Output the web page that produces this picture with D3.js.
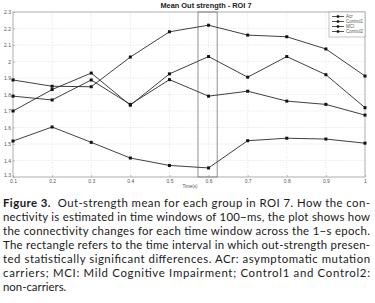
<!DOCTYPE html>
<html>
<head>
<meta charset="utf-8">
<script src="https://cdn.jsdelivr.net/npm/d3@7"></script>
<style>
  body { margin: 0; background: #fff; }
  svg { display: block; }
</style>
</head>
<body>
<div id="chart"></div>
<script>
// time windows (s)
let times = [0.1, 0.2, 0.3, 0.4, 0.5, 0.6, 0.7, 0.8, 0.9, 1.0];
let seriesNames = ["Acr", "Control1", "MCI", "Control2"];
let acr      = [1.888, 1.85, 1.847, 2.027, 2.18, 2.22, 2.16, 2.15, 2.076, 1.912];
let control1 = [1.70, 1.83, 1.93, 1.735, 1.925, 2.03, 1.905, 2.03, 1.92, 1.72];
let mci      = [1.79, 1.767, 1.888, 1.74, 1.89, 1.79, 1.82, 1.76, 1.74, 1.675];
let control2 = [1.518, 1.603, 1.51, 1.415, 1.37, 1.355, 1.52, 1.535, 1.53, 1.505];
let yTicks = [1.3, 1.4, 1.5, 1.6, 1.7, 1.8, 1.9, 2, 2.1, 2.2, 2.3];
let sigWindow = [0.573, 0.622];

let captionLines = [
    "nectivity is estimated in time windows of 100\u2212ms, the plot shows how",
    "the connectivity changes for each time window across the 1\u2212s epoch.",
    "The rectangle refers to the time interval in which out-strength presen-",
    "ted statistically significant differences. ACr: asymptomatic mutation",
    "carriers; MCI: Mild Cognitive Impairment; Control1 and Control2:",
    "non-carriers."
];

let width = 375, height = 303;
let plot = {left: 13, right: 365, top: 12, bottom: 177};

let svg = d3.select("#chart").append("svg")
    .attr("width", width)
    .attr("height", height);

let x = d3.scaleLinear().domain([0.1, 1]).range([plot.left, plot.right]);
let y = d3.scaleLinear().domain([1.3, 2.3]).range([plot.bottom, plot.top]);

// grid
svg.append("g")
    .selectAll("line")
    .data(times.slice(1, -1))
    .join("line")
    .attr("x1", d => x(d)).attr("x2", d => x(d))
    .attr("y1", plot.top).attr("y2", plot.bottom)
    .attr("stroke", "#d4d4d4").attr("stroke-width", 0.6)
    .attr("stroke-dasharray", "1,1.5");
svg.append("g")
    .selectAll("line")
    .data(yTicks.slice(1, -1))
    .join("line")
    .attr("x1", plot.left).attr("x2", plot.right)
    .attr("y1", d => y(d)).attr("y2", d => y(d))
    .attr("stroke", "#d4d4d4").attr("stroke-width", 0.6)
    .attr("stroke-dasharray", "1,1.5");

// axes frame
svg.append("rect")
    .attr("x", plot.left).attr("y", plot.top)
    .attr("width", plot.right - plot.left).attr("height", plot.bottom - plot.top)
    .attr("fill", "none").attr("stroke", "#9a9a9a").attr("stroke-width", 0.8);

// tick labels via d3 axes
let xAxis = svg.append("g")
    .attr("transform", `translate(0,${plot.bottom})`)
    .call(d3.axisBottom(x).tickValues(times).tickSize(-2).tickPadding(3)
        .tickFormat(d => d3.format("~g")(d)));
let yAxis = svg.append("g")
    .attr("transform", `translate(${plot.left},0)`)
    .call(d3.axisLeft(y).tickValues(yTicks).tickSize(-2).tickPadding(2)
        .tickFormat(d => d3.format("~g")(d)));
[xAxis, yAxis].forEach(function(a) {
    a.select(".domain").remove();
    a.selectAll("line").attr("stroke", "#9a9a9a").attr("stroke-width", 0.6);
    a.selectAll("text")
        .attr("fill", "#555")
        .style("font-family", "Liberation Sans, Arial, sans-serif")
        .style("font-size", "5px");
});
xAxis.selectAll("text").attr("dy", "0.5em");
yAxis.selectAll("text").filter(d => d === 1.3).attr("dy", "-0.1em");

// significance rectangle
svg.append("rect")
    .attr("x", x(sigWindow[0])).attr("y", plot.top)
    .attr("width", x(sigWindow[1]) - x(sigWindow[0]))
    .attr("height", plot.bottom - plot.top)
    .attr("fill", "none").attr("stroke", "#777").attr("stroke-width", 0.8);

// series lines
let allSeries = [acr, control1, mci, control2];
let line = d3.line()
    .x((d, i) => x(times[i]))
    .y(d => y(d));

allSeries.forEach(function(s) {
    svg.append("path")
        .datum(s)
        .attr("d", line)
        .attr("fill", "none")
        .attr("stroke", "#2a2a2a")
        .attr("stroke-width", 0.9);
    svg.append("g")
        .selectAll("rect")
        .data(s)
        .join("rect")
        .attr("x", (d, i) => x(times[i]) - 1.5)
        .attr("y", d => y(d) - 1.5)
        .attr("width", 3).attr("height", 3)
        .attr("fill", "#111");
});

// legend
let leg = svg.append("g");
leg.append("rect")
    .attr("x", 329).attr("y", 12)
    .attr("width", 36).attr("height", 25)
    .attr("fill", "#fff").attr("stroke", "#9a9a9a").attr("stroke-width", 0.6);
seriesNames.forEach(function(name, i) {
    let ly = 16.5 + i * 5;
    leg.append("line")
        .attr("x1", 332).attr("x2", 344)
        .attr("y1", ly).attr("y2", ly)
        .attr("stroke", "#2a2a2a").attr("stroke-width", 0.8);
    leg.append("rect")
        .attr("x", 336.8).attr("y", ly - 1.2)
        .attr("width", 2.4).attr("height", 2.4)
        .attr("fill", "#111");
    leg.append("text")
        .attr("x", 346).attr("y", ly + 1.6)
        .attr("fill", "#555")
        .style("font-family", "Liberation Sans, Arial, sans-serif")
        .style("font-size", "4.5px")
        .text(name);
});

// title and x label
svg.append("text")
    .attr("x", 206).attr("y", 8)
    .attr("text-anchor", "middle")
    .style("font-family", "Liberation Sans, Arial, sans-serif")
    .style("font-size", "7.4px")
    .style("font-weight", "bold")
    .attr("fill", "#222")
    .text("Mean Out strength - ROI 7");
svg.append("text")
    .attr("x", 190).attr("y", 188)
    .attr("text-anchor", "middle")
    .style("font-family", "Liberation Sans, Arial, sans-serif")
    .style("font-size", "4.5px")
    .attr("fill", "#555")
    .text("Time(s)");

// caption
let cap = svg.append("g")
    .style("font-family", "Lato, 'Open Sans', sans-serif")
    .style("font-size", "11.4px")
    .attr("fill", "#1a1a1a");
let first = cap.append("text")
    .attr("x", 3).attr("y", 207)
    .attr("textLength", 367).attr("lengthAdjust", "spacing");
first.append("tspan").style("font-weight", "bold").text("Figure 3.");
first.append("tspan").text("\u00a0\u00a0Out-strength mean for each group in ROI 7. How the con-");
captionLines.forEach(function(t, i) {
    let el = cap.append("text")
        .attr("x", 3).attr("y", 221 + i * 14)
        .text(t);
    if (i < captionLines.length - 1)
        el.attr("textLength", 367).attr("lengthAdjust", "spacing");
});
</script>
</body>
</html>
